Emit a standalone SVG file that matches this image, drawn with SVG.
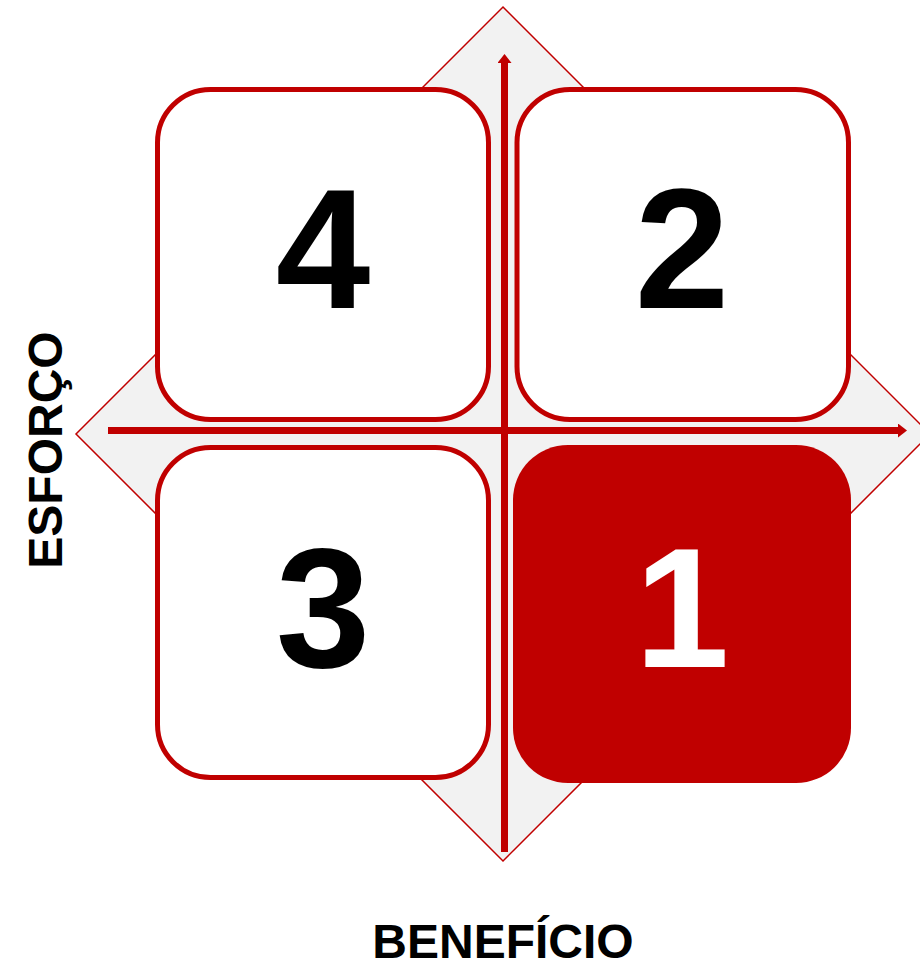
<svg xmlns="http://www.w3.org/2000/svg" width="920" height="969" viewBox="0 0 920 969">
<defs>
<style>
.box{fill:#FFFFFF;stroke:#C00000;stroke-width:5}
.num{font-family:"Liberation Sans",Arial,sans-serif;font-weight:bold;font-size:170px;text-anchor:middle;fill:#000000}
.lbl{font-family:"Liberation Sans",Arial,sans-serif;font-weight:bold;font-size:48px;text-anchor:middle;fill:#000000}
.axis{stroke:#C00000;stroke-width:7;fill:none}
</style>
<marker id="ah" viewBox="0 0 9 14" refX="1" refY="7" markerWidth="9" markerHeight="14" markerUnits="userSpaceOnUse" orient="auto">
<path d="M0,0 L9,7 L0,14 Z" fill="#C00000"/>
</marker>
</defs>
<rect width="920" height="969" fill="#FFFFFF"/>
<g id="background">
<polygon points="503,7 930,434 503,861 76,434" fill="#F2F2F2" stroke="#C00000" stroke-width="1.5"/>
</g>
<g id="axes">
<line class="axis" x1="504.5" y1="852" x2="504.5" y2="62" marker-end="url(#ah)"/>
<line class="axis" x1="108" y1="430.5" x2="899" y2="430.5" marker-end="url(#ah)"/>
</g>
<g id="q4">
<rect class="box" x="157.5" y="89.5" width="331" height="330" rx="53"/>
<text class="num" x="323" y="308">4</text>
</g>
<g id="q2">
<rect class="box" x="517" y="89.5" width="331.5" height="330" rx="53"/>
<text class="num" x="682" y="308">2</text>
</g>
<g id="q3">
<rect class="box" x="157.5" y="447.5" width="331" height="330" rx="53"/>
<text class="num" x="323" y="667">3</text>
</g>
<g id="q1">
<rect x="513" y="445" width="338" height="338" rx="55" fill="#C00000"/>
<text class="num" x="682" y="667" style="fill:#FFFFFF">1</text>
</g>
<g id="labels">
<text class="lbl" transform="translate(62,450) rotate(-90)">ESFORÇO</text>
<text class="lbl" x="503" y="958">BENEFÍCIO</text>
</g>
</svg>
